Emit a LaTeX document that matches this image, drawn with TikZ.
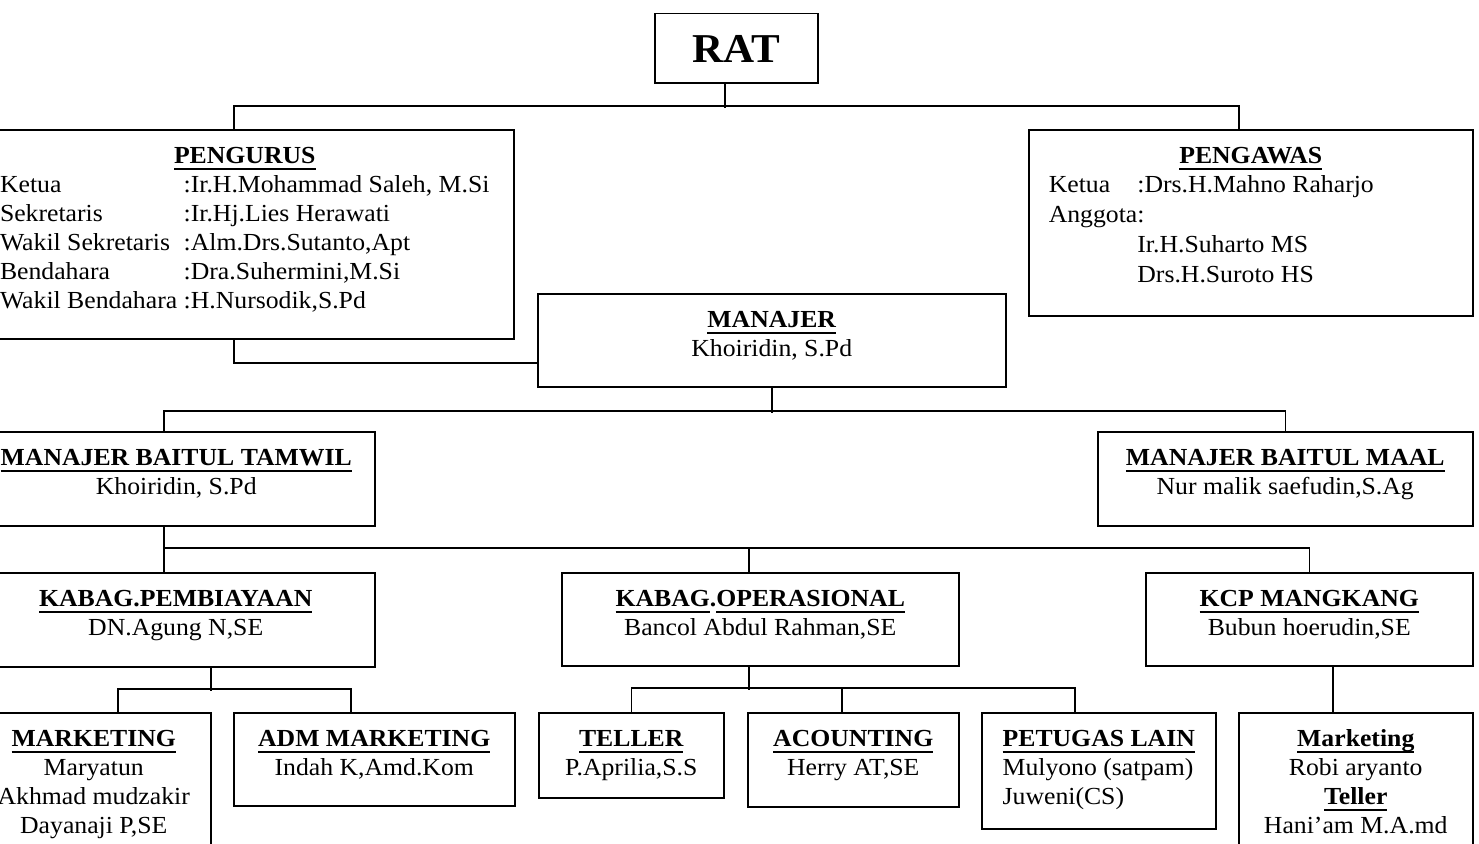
\documentclass[tikz,border=0pt]{standalone}
\usepackage{fontspec}
\setmainfont{Liberation Serif}[FakeStretch=1.05]

% bold heading with a thick underline
\newcommand{\hd}[1]{{\bfseries\setbox0\hbox{#1}\rlap{\rule[-6.2pt]{\wd0}{2.4pt}}\box0}}

\tikzset{
    orgbox/.style = {draw, line width=1.5pt, inner sep=0pt, anchor=north west, align=center,
                     text height=63pt, font=\fontsize{24.5}{29}\selectfont},
    link/.style   = {line width=1.5pt},
}

\begin{document}
\begin{tikzpicture}[x=1pt, y=-1pt]
                \useasboundingbox (0,0) rectangle (1479,843);
                \fill[white] (0,0) rectangle (1479,843);
                \clip (0,0) rectangle (1479,843);
                \draw
                    ( 654,  13) node[orgbox, minimum width=163pt, text height=49pt, text depth=20pt,
                                     font=\fontsize{41}{49}\selectfont\bfseries](rat){RAT}
                    ( -25, 129) node[orgbox, minimum width=538pt, text depth=146pt](pengurus){\hd{PENGURUS}\\
                        \begin{tabular}[t]{@{}l@{\ }l@{}}
                            Ketua & :Ir.H.Mohammad Saleh, M.Si\\
                            Sekretaris & :Ir.Hj.Lies Herawati\\
                            Wakil Sekretaris & :Alm.Drs.Sutanto,Apt\\
                            Bendahara & :Dra.Suhermini,M.Si\\
                            Wakil Bendahara & :H.Nursodik,S.Pd
                        \end{tabular}}
                    (1028, 129) node[orgbox, minimum width=444pt, text depth=123pt](pengawas){\hd{PENGAWAS}\\
                        \makebox[404pt][l]{\begin{tabular}[t]{@{}l@{}l@{}}
                            Ketua & :Drs.H.Mahno Raharjo\\[1pt]
                            Anggota & :\\[1pt]
                             & Ir.H.Suharto MS\\[1pt]
                             & Drs.H.Suroto HS
                        \end{tabular}}}
                    ( 537, 293) node[orgbox, minimum width=468pt, text depth=30pt](manajer){\hd{MANAJER}\\Khoiridin, S.Pd}
                    ( -23, 431) node[orgbox, minimum width=397pt, text depth=31pt](tamwil){\hd{MANAJER BAITUL TAMWIL}\\Khoiridin, S.Pd}
                    (1097, 431) node[orgbox, minimum width=375pt, text depth=31pt](maal){\hd{MANAJER BAITUL MAAL}\\Nur malik saefudin,S.Ag}
                    ( -24, 572) node[orgbox, minimum width=398pt, text depth=31pt](pembiayaan){\hd{KABAG.PEMBIAYAAN}\\DN.Agung N,SE}
                    ( 561, 572) node[orgbox, minimum width=397pt, text depth=30pt](operasional){\hd{KABAG}\textbf{.}\hd{OPERASIONAL}\\Bancol Abdul Rahman,SE}
                    (1145, 572) node[orgbox, minimum width=327pt, text depth=30pt](kcp){\hd{KCP MANGKANG}\\Bubun hoerudin,SE}
                    ( -24, 712) node[orgbox, minimum width=234pt, text height=121pt, text depth=27pt](marketing){\hd{MARKETING}\\Maryatun\\Akhmad mudzakir\\Dayanaji P,SE}
                    ( 233, 712) node[orgbox, minimum width=281pt, text depth=30pt](admmkt){\hd{ADM MARKETING}\\Indah K,Amd.Kom}
                    ( 538, 712) node[orgbox, minimum width=185pt, text depth=22pt](teller){\hd{TELLER}\\P.Aprilia,S.S}
                    ( 747, 712) node[orgbox, minimum width=211pt, text depth=31pt](acounting){\hd{ACOUNTING}\\Herry AT,SE}
                    ( 981, 712) node[orgbox, align=left, minimum width=234pt, text height=92pt, text depth=24pt](petugas){\hd{PETUGAS LAIN}\\Mulyono (satpam)\\Juweni(CS)}
                    (1238, 712) node[orgbox, minimum width=234pt, text height=121pt, text depth=27pt](kcpmkt){\hd{Marketing}\\Robi aryanto\\\hd{Teller}\\Hani’am M.A.md}
                ;
                % RAT
                \draw [link] ([xshift=-11.5pt]rat.south) -- ++(0,24);
                \draw [link] ([xshift=-11pt]pengurus.north) -- ++(0,-23) -| ([xshift=-12pt]pengawas.north);
                \draw [link] ([xshift=-11pt]pengurus.south) |- ([yshift=-22.5pt]manajer.west);
                % manajer
                \draw [link] (manajer.south) -- ++(0,25);
                \draw [link] ([xshift=-12.5pt]tamwil.north) -- ++(0,-20) -| (maal.north);
                \draw [link] ([xshift=-12.5pt]tamwil.south) -- ([xshift=-12pt]pembiayaan.north);
                \draw [link] ([xshift=-12pt]pembiayaan.north) -- ++(0,-24) -| (kcp.north);
                \draw [link] ([xshift=-11.5pt]operasional.north) -- ++(0,-24);
                % kabag
                \draw [link] ([xshift=35pt]pembiayaan.south) -- ++(0,23);
                \draw [link] ([xshift=24pt]marketing.north) -- ++(0,-23) -| ([xshift=-23.5pt]admmkt.north);
                \draw [link] ([xshift=-11.5pt]operasional.south) -- ++(0,23);
                \draw [link] (teller.north) -- ++(0,-24) -| ([xshift=-24pt]petugas.north);
                \draw [link] ([xshift=-11.5pt]acounting.north) -- ++(0,-24);
                \draw [link] ([xshift=23.5pt]kcp.south) -- ([xshift=-23pt]kcpmkt.north);
            \end{tikzpicture}
\end{document}
